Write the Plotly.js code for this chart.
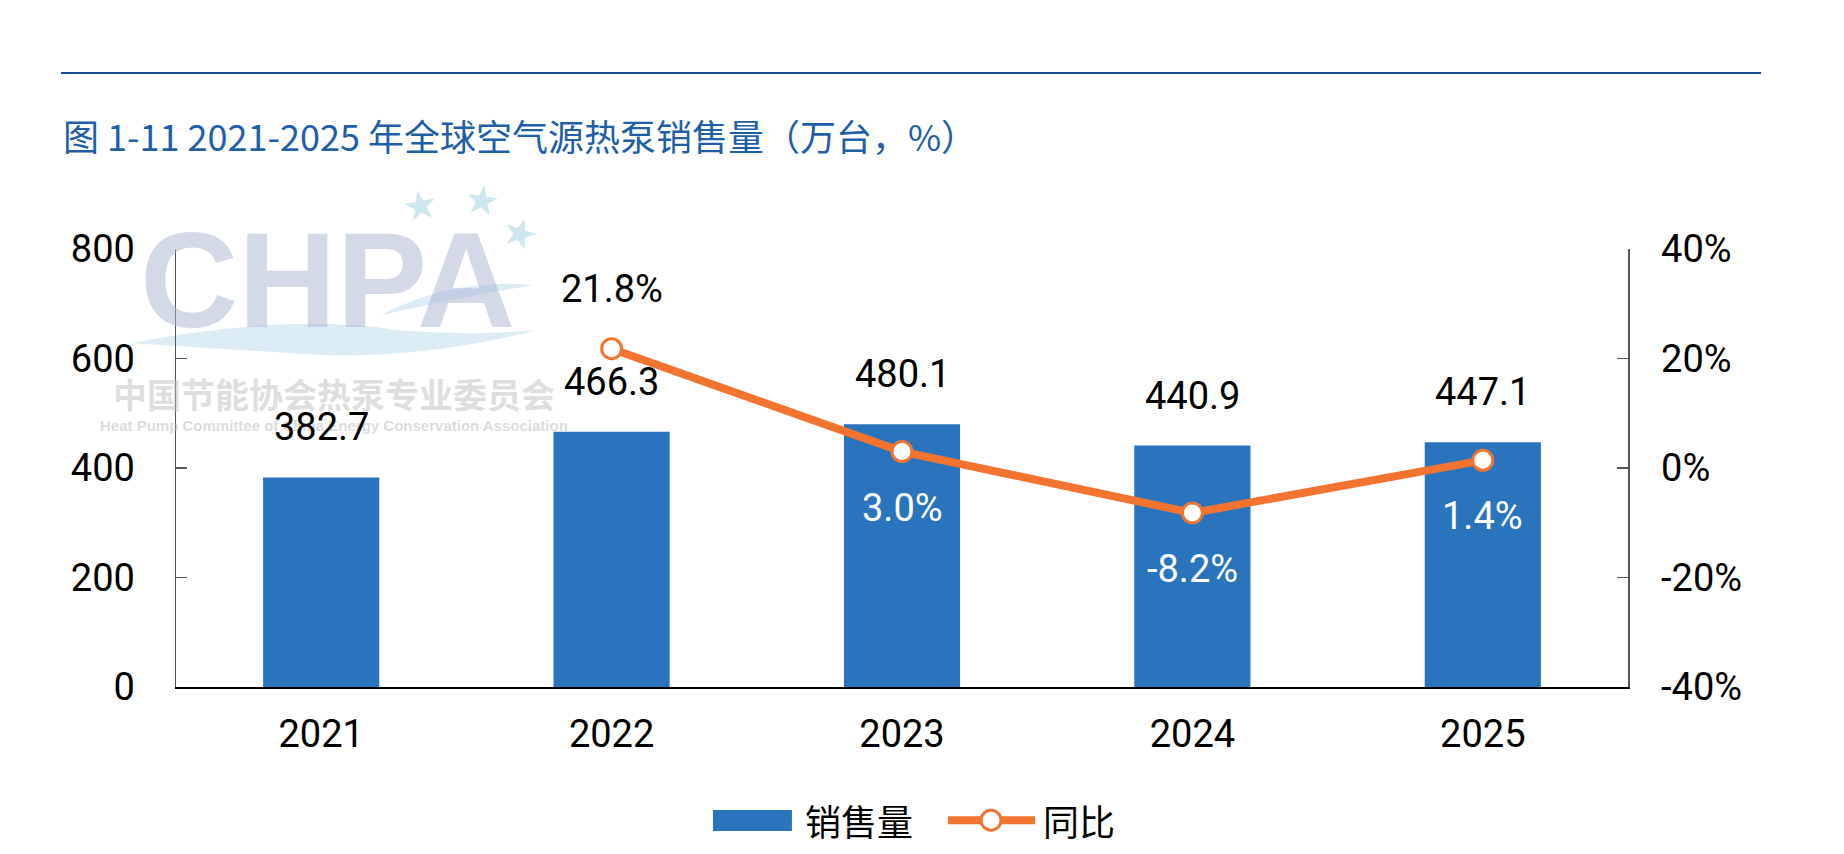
<!DOCTYPE html>
<html>
<head>
<meta charset="utf-8">
<script src="https://cdn.plot.ly/plotly-3.0.1.min.js"></script>
<style>
  html, body { margin: 0; padding: 0; background: #fff; }
  #chart { width: 1844px; height: 854px; }
</style>
</head>
<body>
<div id="chart"></div>
<script>
/* global Plotly */
const years = ["2021", "2022", "2023", "2024", "2025"];
const sales = [382.7, 466.3, 480.1, 440.9, 447.1];
const growth = [null, 21.8, 3.0, -8.2, 1.4];
const growthLabels = ["", "21.8%", "3.0%", "-8.2%", "1.4%"];
const rightTickVals = [-40, -20, 0, 20, 40];
const rightTickText = ["-40%", "-20%", "0%", "20%", "40%"];
const salesName = "销售量";
const growthName = "同比";
const titleText = "图 1-11 2021-2025 年全球空气源热泵销售量（万台，%）";

const BLUE = "#2a74be";
const ORANGE = "#f37331";
const numFont = "Roboto, 'Noto Sans', sans-serif";
const cjkFont = "'Noto Sans CJK SC', sans-serif";

const axisBase = {
  showgrid: false,
  zeroline: false,
  showline: true,
  tickfont: { family: numFont, size: 38, color: "#000" },
  fixedrange: true,
};

// paper-positioned text, anchored on its centre unless told otherwise
function note(x, y, text, font, extra) {
  return {
    xref: "paper", yref: "paper", x, y, text, font,
    showarrow: false, xanchor: "center", yanchor: "middle",
    ...extra,
  };
}

// faint CHPA watermark, drawn first so data labels sit on top
function getWatermark() {
  const stars = [
    [0.168, 1.1, -10],
    [0.211, 1.112, 8],
    [0.237, 1.037, 18],
  ].map(([x, y, a]) =>
    note(x, y, "★", { family: "DejaVu Sans", size: 40, color: "rgba(190,222,236,0.75)" }, { textangle: a }),
  );
  return [
    note(0.104, 0.929, "<b>CHPA</b>",
      { family: "Liberation Sans, Arial", size: 136, color: "rgba(170,180,210,0.5)" }),
    note(0.109, 0.671, "<b>中国节能协会热泵专业委员会</b>",
      { family: cjkFont, size: 34, color: "rgba(190,190,190,0.5)" }),
    note(0.109, 0.596, "<b>Heat Pump Committee of China Energy Conservation Association</b>",
      { family: "Liberation Sans, Arial", size: 15, color: "rgba(190,190,190,0.55)" }),
    ...stars,
  ];
}

function getLabels() {
  const valueLabels = years.map((yr, i) => ({
    x: i, y: sales[i], xref: "x", yref: "y",
    text: sales[i].toFixed(1), showarrow: false, yshift: 50,
    xanchor: "center", yanchor: "middle",
    font: { family: numFont, size: 38, color: "#000" },
  }));
  const growthAnn = years
    .map((yr, i) => i)
    .filter((i) => growth[i] !== null)
    .map((i) => {
      const above = growth[i] > 15;
      return {
        x: i, y: growth[i], xref: "x", yref: "y2",
        text: growthLabels[i], showarrow: false, yshift: above ? 60 : -56,
        xanchor: "center", yanchor: "middle",
        font: { family: numFont, size: 38, color: above ? "#000" : "#fff" },
      };
    });
  return [...valueLabels, ...growthAnn];
}

function getLegend() {
  const ly = -0.304;
  const font = { family: cjkFont, size: 36, color: "#000" };
  return {
    shapes: [
      { type: "rect", xref: "paper", yref: "paper", x0: 0.3698, x1: 0.4242, y0: -0.281, y1: -0.329,
        fillcolor: BLUE, line: { width: 0 } },
      { type: "line", xref: "paper", yref: "paper", x0: 0.5317, x1: 0.5916, y0: ly, y1: ly,
        line: { color: ORANGE, width: 8 } },
      { type: "circle", xref: "paper", yref: "paper", xsizemode: "pixel", ysizemode: "pixel",
        xanchor: 0.5613, yanchor: ly, x0: -10, x1: 10, y0: -10, y1: 10,
        fillcolor: "#fff", line: { color: ORANGE, width: 3 } },
    ],
    annotations: [
      note(0.4318, ly, salesName, font, { xanchor: "left" }),
      note(0.5957, ly, growthName, font, { xanchor: "left" }),
    ],
  };
}

function getLayout() {
  const legend = getLegend();
  return {
    width: 1844,
    height: 854,
    paper_bgcolor: "#fff",
    plot_bgcolor: "rgba(0,0,0,0)",
    showlegend: false,
    bargap: 0.6,
    margin: { l: 176, r: 216, t: 249, b: 167, pad: 0 },
    xaxis: {
      ...axisBase,
      type: "category",
      range: [-0.5, years.length - 0.5],
      linecolor: "#000",
      linewidth: 1.5,
      ticks: "",
      ticklabelstandoff: 13,
    },
    yaxis: {
      ...axisBase,
      range: [0, 800],
      dtick: 200,
      linecolor: "#555",
      linewidth: 1.5,
      ticks: "inside",
      ticklen: 11,
      tickcolor: "#555",
      tickwidth: 1.5,
      ticklabelstandoff: 32,
    },
    yaxis2: {
      ...axisBase,
      overlaying: "y",
      side: "right",
      range: [-40, 40],
      tickmode: "array",
      tickvals: rightTickVals,
      ticktext: rightTickText,
      linecolor: "#555",
      linewidth: 1.5,
      ticks: "inside",
      ticklen: 11,
      tickcolor: "#555",
      tickwidth: 1.5,
      ticklabelstandoff: 24,
    },
    shapes: [
      { type: "line", xref: "paper", yref: "paper", x0: -0.0792, x1: 1.0916, y0: 1.4018, y1: 1.4018,
        line: { color: "#1f4e8f", width: 2 } },
      { type: "path", xref: "paper", yref: "paper", layer: "below",
        path: "M -0.031 0.785 Q 0.08 0.855 0.152 0.815 Q 0.2 0.8 0.249 0.815 Q 0.16 0.74 0.08 0.762 Q 0.02 0.775 -0.031 0.785 Z",
        fillcolor: "#dcecf4", line: { width: 0 } },
      { type: "path", xref: "paper", yref: "paper", layer: "below",
        path: "M 0.141 0.849 Q 0.19 0.935 0.246 0.918 Q 0.19 0.885 0.141 0.849 Z",
        fillcolor: "#dcecf4", line: { width: 0 } },
      ...legend.shapes,
    ],
    annotations: [
      note(-0.0792, 1.26, titleText, { family: cjkFont, size: 36, color: "#1f5ea8" }, { xanchor: "left" }),
      ...getWatermark(),
      ...getLabels(),
      ...legend.annotations,
    ],
  };
}

const salesTrace = {
  type: "bar",
  name: salesName,
  x: years,
  y: sales,
  marker: { color: BLUE },
  hoverinfo: "skip",
};

const growthTrace = {
  type: "scatter",
  mode: "lines+markers",
  name: growthName,
  x: years.slice(1),
  y: growth.slice(1),
  yaxis: "y2",
  line: { color: ORANGE, width: 8 },
  marker: { size: 20, color: "#fff", line: { color: ORANGE, width: 3 } },
  hoverinfo: "skip",
};

Plotly.newPlot("chart", [salesTrace, growthTrace], getLayout(), {
  staticPlot: true,
  displayModeBar: false,
});
</script>
</body>
</html>
